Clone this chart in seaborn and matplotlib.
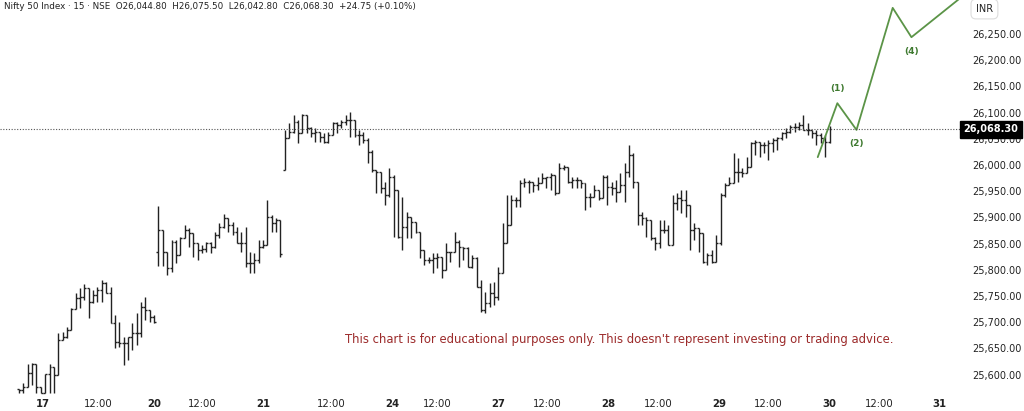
import matplotlib
matplotlib.use("Agg")
import matplotlib.pyplot as plt
import seaborn as sns
import numpy as np
import pandas as pd

highs = [25573,25584,25620,25622,25620,25577,25601,25620,25615,25679,25681,25691,25727,25756,25765,25773,25756,25762,25767,25781,25777,25767,25714,25700,25672,25666,25699,25718,25739,25748,25723,25714,
         25922,25872,25806,25857,25857,25863,25886,25880,25857,25848,25848,25853,25853,25872,25890,25907,25899,25891,25882,25872,25882,25834,25832,25857,25857,25933,25905,25899,25870,
         26067,26080,26095,26086,26097,26082,26072,26070,26063,26061,26063,26082,26082,26086,26095,26101,26067,26067,26063,26051,26029,25987,25985,25968,25994,25981,25895,25939,25911,25901,25891,
         25872,25834,25825,25832,25832,25825,25851,25834,25872,25857,25844,25844,25828,25825,25781,25758,25775,25777,25806,
         25890,25943,25943,25939,25972,25975,25972,25968,25977,25985,25977,25985,25958,26004,26000,25985,25977,25977,25972,25966,25947,25962,25953,25981,25981,25968,25972,25985,26004,26038,26023,
         25968,25911,25901,25890,25863,25895,25895,25886,25943,25947,25953,25953,25899,25890,25872,25867,25832,25838,25867,
         25947,25966,25977,26023,26013,25994,26015,26044,26048,26042,26044,26048,26051,26053,26063,26070,26076,26080,26082,26095,26080,26063,26067,26061,26057,26075]
lows = [25565,25565,25577,25580,25565,25565,25565,25565,25565,25600,25666,25670,25685,25725,25727,25742,25708,25737,25739,25739,25756,25699,25651,25653,25619,25628,25647,25657,25672,25704,25700,25699,
        25808,25808,25790,25796,25813,25828,25861,25844,25825,25819,25832,25834,25832,25842,25861,25880,25872,25867,25851,25834,25806,25794,25794,25813,25842,25872,25872,25872,25825,
        25991,26051,26061,26042,26072,26061,26053,26044,26044,26042,26042,26057,26061,26070,26076,26053,26053,26038,26042,26004,25987,25947,25947,25924,25939,25863,25861,25838,25861,25861,25870,
        25823,25809,25813,25794,25804,25785,25819,25815,25834,25806,25819,25806,25804,25767,25720,25718,25729,25733,25742,
        25825,25880,25928,25920,25920,25958,25947,25949,25953,25966,25956,25953,25943,25953,25991,25966,25956,25956,25956,25914,25920,25939,25933,25937,25924,25943,25930,25958,25930,25977,25956,
        25886,25886,25863,25857,25838,25842,25870,25848,25911,25914,25909,25901,25838,25857,25834,25813,25809,25813,25844,
        25848,25939,25962,25966,25968,25977,25985,26000,26019,26015,26023,26010,26025,26029,26048,26051,26061,26063,26067,26067,26057,26051,26038,26042,26015,26042]
closes = [25571,25577,25603,25620,25577,25565,25601,25615,25600,25666,25672,25685,25725,25746,25748,25765,25739,25752,25762,25775,25756,25699,25662,25660,25660,25672,25679,25679,25729,25723,25710,25700,
          25876,25834,25804,25853,25828,25861,25876,25870,25851,25838,25840,25851,25844,25867,25882,25899,25886,25872,25851,25851,25813,25813,25819,25844,25848,25901,25890,25895,25830,
          26051,26063,26082,26061,26095,26070,26061,26063,26053,26044,26057,26080,26076,26082,26086,26086,26057,26057,26048,26025,25991,25987,25956,25943,25977,25953,25863,25882,25901,25891,25872,
          25838,25819,25819,25823,25825,25800,25834,25834,25853,25844,25842,25806,25823,25767,25723,25737,25756,25748,25794,
          25851,25886,25933,25933,25966,25968,25968,25962,25966,25975,25977,25981,25947,25994,25996,25968,25972,25972,25966,25939,25939,25953,25937,25977,25958,25956,25949,25962,25987,26019,25968,
          25905,25899,25895,25861,25851,25876,25876,25848,25928,25937,25933,25924,25876,25880,25870,25815,25828,25815,25851,
          25943,25962,25966,25987,25987,25985,25996,26042,26044,26038,26038,26042,26048,26051,26061,26063,26072,26072,26076,26067,26067,26061,26057,26051,26044,26068.3]
opens = [25573,25571,25577,25603,25620,25577,25565,25601,25615,25600,25666,25672,25685,25725,25746,25748,25765,25739,25752,25762,25775,25756,25699,25662,25660,25660,25672,25679,25679,25729,25723,25710,
         25834,25876,25834,25804,25853,25828,25861,25876,25870,25851,25838,25840,25851,25844,25867,25882,25899,25886,25872,25851,25851,25813,25813,25819,25844,25848,25901,25890,25895,
         25991,26051,26063,26082,26061,26095,26070,26061,26063,26053,26044,26057,26080,26076,26082,26086,26086,26057,26057,26048,26025,25991,25987,25956,25943,25977,25953,25863,25882,25901,25891,
         25872,25838,25819,25819,25823,25825,25800,25834,25834,25853,25844,25842,25806,25823,25767,25723,25737,25756,25748,
         25794,25851,25886,25933,25933,25966,25968,25968,25962,25966,25975,25977,25981,25947,25994,25996,25968,25972,25972,25966,25939,25939,25953,25937,25977,25958,25956,25949,25962,25987,26019,
         25968,25905,25899,25895,25861,25851,25876,25876,25848,25928,25937,25933,25924,25876,25880,25870,25815,25828,25815,
         25851,25943,25962,25966,25987,25987,25985,25996,26042,26044,26038,26038,26042,26048,26051,26061,26063,26072,26072,26076,26067,26067,26061,26057,26051,26044.8]

wave_x = [183.3, 187.8, 192.2, 200.5, 204.8, 217.7]
wave_y = [26015, 26118, 26067, 26300, 26244, 26330]
wave_labels = ["(1)", "(2)", "(4)"]

tick_pos = [5.5, 18.1, 31, 42, 56, 71.6, 85.6, 95.9, 109.9, 121.3, 135.3, 146.8, 160.6, 172, 186, 197.5, 211.2]
tick_labels = ["17", "12:00", "20", "12:00", "21", "12:00", "24", "12:00", "27", "12:00", "28", "12:00", "29", "12:00", "30", "12:00", "31"]
bold_ticks = {"17", "20", "21", "24", "27", "28", "29", "30", "31"}
ytick_vals = list(range(25600, 26251, 50))
last_price = 26068.30

sns.set_style("white")
plt.rcParams['font.family'] = ['DejaVu Sans']

fig = plt.figure(figsize=(10.24, 4.11), dpi=100)
ax = fig.add_axes([0, 0.039, 0.939, 0.961])

n = len(closes)
x = np.arange(n)
hi = np.maximum.reduce([np.array(highs), np.array(opens), np.array(closes)])
lo = np.minimum.reduce([np.array(lows), np.array(opens), np.array(closes)])
ax.vlines(x, lo, hi, color="#222222", lw=1.0)
ax.hlines(opens, x - 0.45, x, color="#222222", lw=1.0)
ax.hlines(closes, x, x + 0.45, color="#222222", lw=1.0)

df = pd.DataFrame({"x": wave_x, "y": wave_y})
sns.lineplot(data=df, x="x", y="y", ax=ax, color="#5b9447", lw=1.3, sort=False)
gc = "#3f7a30"
ax.text(wave_x[1], wave_y[1] + 20, wave_labels[0], color=gc, fontsize=6.5, fontweight="bold", ha="center", va="bottom")
ax.text(wave_x[2], wave_y[2] - 18, wave_labels[1], color=gc, fontsize=6.5, fontweight="bold", ha="center", va="top")
ax.text(wave_x[4], wave_y[4] - 18, wave_labels[2], color=gc, fontsize=6.5, fontweight="bold", ha="center", va="top")

ax.axhline(last_price, color="#555555", lw=0.8, ls=(0, (1, 1.5)))

ax.set_xlim(-4.36, 216.3)
ax.set_ylim(25561, 26315)
for s in ax.spines.values():
    s.set_visible(False)
ax.set_xticks(tick_pos)
ax.set_xticklabels(tick_labels)
for t in ax.get_xticklabels():
    t.set_fontsize(7.3)
    t.set_color("#222222")
    if t.get_text() in bold_ticks:
        t.set_fontweight("bold")
ax.tick_params(axis="x", length=0, pad=3)
ax.yaxis.tick_right()
ax.set_yticks(ytick_vals)
ax.set_yticklabels([f"{v:,.2f}" for v in ytick_vals])
ax.tick_params(axis="y", length=0, labelsize=7, pad=8, labelcolor="#222222")
ax.set_xlabel("")
ax.set_ylabel("")

ax.text(1.002, last_price, f"{last_price:,.2f}", transform=ax.get_yaxis_transform(),
        fontsize=7, color="white", fontweight="bold", va="center", ha="left",
        bbox=dict(boxstyle="square,pad=0.35", fc="black", ec="black"), clip_on=False)

fig.text(0.953, 0.978, "INR", fontsize=7, color="#222222", va="center", ha="left",
         bbox=dict(boxstyle="round,pad=0.5", fc="white", ec="#dddddd", lw=0.8))
fig.text(0.004, 0.985, "Nifty 50 Index · 15 · NSE  O26,044.80  H26,075.50  L26,042.80  C26,068.30  +24.75 (+0.10%)",
         fontsize=6.3, color="#222222", va="center", ha="left")
fig.text(0.605, 0.173, "This chart is for educational purposes only. This doesn't represent investing or trading advice.",
         fontsize=8.4, color="#9c2b2b", va="center", ha="center")

fig.savefig("out.png", dpi=100)
